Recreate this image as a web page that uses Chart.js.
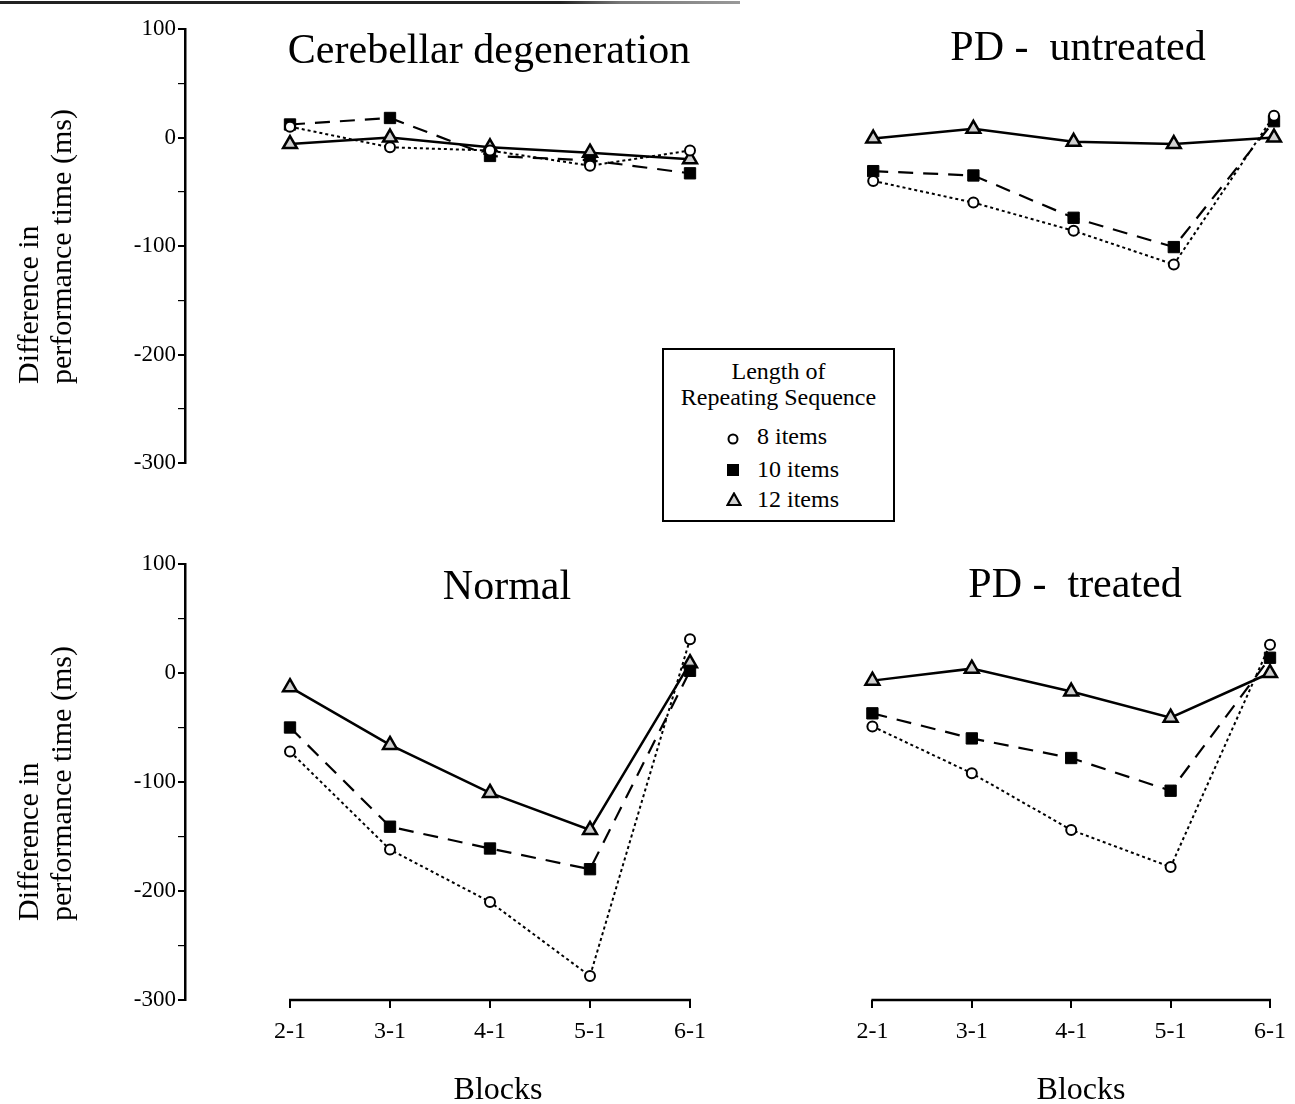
<!DOCTYPE html>
<html>
<head>
<meta charset="utf-8">
<script src="https://cdn.jsdelivr.net/npm/chart.js@4.4.0/dist/chart.umd.min.js"></script>
<style>
  body { margin: 0; background: #fff; }
  #page { position: relative; width: 1295px; height: 1104px; overflow: hidden; font-family: "Liberation Serif", serif; color: #000; }
  .panel { position: absolute; }
  .title { position: absolute; font-size: 42px; line-height: 42px; white-space: pre; transform: translateX(-50%); }
  .xname { position: absolute; font-size: 32px; line-height: 32px; transform: translateX(-50%); }
  .yname { position: absolute; font-size: 30px; line-height: 33px; white-space: nowrap; transform-origin: 0 0; transform: rotate(-90deg); }
  #scanline { position: absolute; left: 0; top: 1px; width: 740px; height: 3px; background: linear-gradient(to right, #222 0, #222 560px, #777 620px, #999 740px); }
  #legend { position: absolute; left: 662px; top: 348px; width: 233px; height: 174px; box-sizing: border-box; border: 2px solid #000; background: #fff; font-size: 24px; line-height: 24px; }
  #legend .line { position: absolute; left: 0; width: 100%; text-align: center; white-space: nowrap; }
  #legend .item { position: absolute; left: 93px; white-space: nowrap; }
  #legend svg { position: absolute; left: 62px; }
</style>
</head>
<body>
<div id="page">
  <div id="scanline"></div>

  <div class="panel" style="left:0;top:0;width:720px;height:500px"><canvas id="cerebellar"></canvas></div>
  <div class="panel" style="left:740px;top:0;width:555px;height:500px"><canvas id="untreated"></canvas></div>
  <div class="panel" style="left:0;top:530px;width:720px;height:574px"><canvas id="normal"></canvas></div>
  <div class="panel" style="left:740px;top:530px;width:555px;height:574px"><canvas id="treated"></canvas></div>

  <div class="yname" style="left:11px;top:384px">Difference in<br>performance time (ms)</div>
  <div class="yname" style="left:11px;top:921px">Difference in<br>performance time (ms)</div>

  <div class="title" style="left:489px;top:28px">Cerebellar degeneration</div>
  <div class="title" style="left:1078px;top:25px">PD -  untreated</div>
  <div class="title" style="left:507px;top:564px">Normal</div>
  <div class="title" style="left:1075px;top:562px">PD -  treated</div>

  <div class="xname" style="left:498px;top:1072px">Blocks</div>
  <div class="xname" style="left:1081px;top:1072px">Blocks</div>

  <div id="legend">
    <div class="line" style="top:9px">Length of</div>
    <div class="line" style="top:35px">Repeating Sequence</div>
    <svg style="top:82px" width="14" height="14"><circle cx="7" cy="7" r="4.5" fill="#fff" stroke="#000" stroke-width="2"/></svg>
    <div class="item" style="top:74px">8 items</div>
    <svg style="top:113px" width="14" height="14"><rect x="1" y="1" width="12" height="12" fill="#000"/></svg>
    <div class="item" style="top:107px">10 items</div>
    <svg style="top:142px" width="16" height="15"><polygon points="8,1.5 14.5,13 1.5,13" fill="#d0d0d0" stroke="#000" stroke-width="2.2"/></svg>
    <div class="item" style="top:137px">12 items</div>
  </div>
</div>

<script>
// blocks on the x axis
const blockLabels = ['2-1', '3-1', '4-1', '5-1', '6-1'];
const seriesNames = ['8 items', '10 items', '12 items'];

// Cerebellar degeneration
const cerebellar8 = [10, -9, -12, -26, -12];
const cerebellar10 = [12, 18, -17, -21, -33];
const cerebellar12 = [-6, 0, -9, -14, -20];

// PD - untreated
const untreated8 = [-40, -60, -86, -117, 20];
const untreated10 = [-31, -35, -74, -101, 15];
const untreated12 = [-1, 8, -4, -6, 0];

// Normal
const normal8 = [-72, -162, -210, -278, 31];
const normal10 = [-50, -141, -161, -180, 2];
const normal12 = [-13, -66, -110, -144, 9];

// PD - treated
const treated8 = [-49, -92, -144, -178, 26];
const treated10 = [-37, -60, -78, -108, 14];
const treated12 = [-7, 4, -17, -41, 0];

const serif = 'Liberation Serif';

function toPoints(values) {
    return values.map((y, i) => ({ x: i + 2, y: y }));
}

function makeDatasets(v8, v10, v12) {
    return [
        {
            label: seriesNames[0],
            data: toPoints(v8),
            borderColor: '#000',
            borderWidth: 2,
            borderDash: [3, 3],
            pointStyle: 'circle',
            pointRadius: 5,
            pointBackgroundColor: '#fff',
            pointBorderColor: '#000',
            pointBorderWidth: 2,
            clip: false
        },
        {
            label: seriesNames[1],
            data: toPoints(v10),
            borderColor: '#000',
            borderWidth: 2.2,
            borderDash: [15, 10],
            pointStyle: 'rect',
            pointRadius: 8,
            pointBackgroundColor: '#000',
            pointBorderColor: '#000',
            pointBorderWidth: 1,
            clip: false
        },
        {
            label: seriesNames[2],
            data: toPoints(v12),
            borderColor: '#000',
            borderWidth: 2.5,
            pointStyle: 'triangle',
            pointRadius: 8,
            pointBackgroundColor: '#d0d0d0',
            pointBorderColor: '#000',
            pointBorderWidth: 2.5,
            clip: false
        }
    ];
}

// x axis line only runs from the first block to the last one
const blockAxisLine = {
    id: 'blockAxisLine',
    beforeDatasetsDraw(chart) {
        const x = chart.scales.x;
        if (!x.options.display) return;
        const ctx = chart.ctx;
        const y = chart.chartArea.bottom;
        ctx.save();
        ctx.strokeStyle = '#000';
        ctx.lineWidth = 2.5;
        ctx.beginPath();
        ctx.moveTo(x.getPixelForValue(2) - 1, y);
        ctx.lineTo(x.getPixelForValue(6) + 1, y);
        ctx.stroke();
        ctx.restore();
    }
};

function makeChart(id, datasets, opts) {
    const yScale = {
        min: -300,
        max: 100,
        display: opts.showY,
        ticks: {
            stepSize: 50,
            color: '#000',
            padding: 2,
            font: { family: serif, size: 23 },
            callback: v => (v % 100 === 0 ? String(v) : '')
        },
        grid: {
            drawOnChartArea: false,
            tickLength: 7,
            color: '#000',
            lineWidth: ctx => (ctx.tick && ctx.tick.value % 100 === 0 ? 2 : 1.2)
        },
        border: { display: true, color: '#000', width: 2.5 }
    };
    if (opts.showY) yScale.afterFit = s => { s.width = 185; };

    const xScale = {
        type: 'linear',
        min: opts.xMin,
        max: 6,
        display: opts.showX,
        afterBuildTicks: s => { s.ticks = blockLabels.map((_, i) => ({ value: i + 2 })); },
        ticks: {
            color: '#000',
            padding: 9,
            autoSkip: false,
            maxRotation: 0,
            font: { family: serif, size: 24 },
            callback: (v, i) => blockLabels[i]
        },
        grid: { drawOnChartArea: false, tickLength: 8, color: '#000', lineWidth: 2 },
        border: { display: false }
    };
    if (opts.showX) xScale.afterFit = s => { s.height = 104; };

    return new Chart(document.getElementById(id), {
        type: 'line',
        data: { datasets: datasets },
        options: {
            responsive: true,
            maintainAspectRatio: false,
            animation: false,
            layout: { padding: opts.padding },
            plugins: {
                legend: { display: false },
                tooltip: { enabled: false },
                title: { display: false }
            },
            scales: { x: xScale, y: yScale }
        },
        plugins: [blockAxisLine]
    });
}

makeChart('cerebellar', makeDatasets(cerebellar8, cerebellar10, cerebellar12), {
    showY: true, showX: false, xMin: 0.95,
    padding: { top: 29, right: 30, bottom: 37, left: 0 }
});

makeChart('untreated', makeDatasets(untreated8, untreated10, untreated12), {
    showY: false, showX: false, xMin: 1,
    padding: { top: 29, right: 21, bottom: 37, left: 33 }
});

makeChart('normal', makeDatasets(normal8, normal10, normal12), {
    showY: true, showX: true, xMin: 0.95,
    padding: { top: 34, right: 30, bottom: 0, left: 0 }
});

makeChart('treated', makeDatasets(treated8, treated10, treated12), {
    showY: false, showX: true, xMin: 1,
    padding: { top: 34, right: 21, bottom: 0, left: 33 }
});
</script>
</body>
</html>
